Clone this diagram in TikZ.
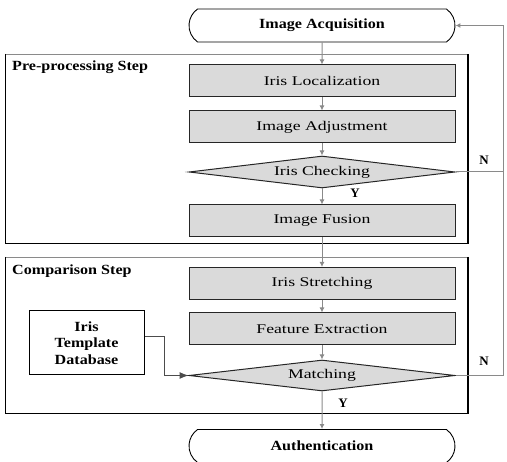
\documentclass[tikz,border=0pt]{standalone}
\usepackage{fontspec}
\setmainfont{Liberation Serif}
\newfontfamily\wreg[FakeStretch=1.33]{Liberation Serif}
\newfontfamily\wbold[FakeStretch=1.15]{Liberation Serif}
\usetikzlibrary{shapes.geometric,shapes.misc,arrows.meta}
\definecolor{boxgray}{HTML}{DADADA}
\definecolor{linegray}{HTML}{8A8A8A}
\tikzset{
  term/.style={rounded rectangle, rounded rectangle arc length=110, draw=black, line width=0.9pt,
    minimum width=266pt, minimum height=33pt, inner sep=0pt, font=\wbold\bfseries\fontsize{14}{16}\selectfont},
  proc/.style={rectangle, draw=black!85, line width=1pt, fill=boxgray,
    minimum width=266pt, minimum height=32pt, inner sep=0pt, font=\wreg\fontsize{13.3}{15}\selectfont},
  dec/.style={diamond, aspect=8.3, draw=black!85, line width=1pt, fill=boxgray,
    minimum width=266pt, minimum height=32pt, inner sep=0pt, font=\wreg\fontsize{13.3}{15}\selectfont},
  dbbox/.style={rectangle, draw=black, line width=1pt, fill=white, minimum width=115pt, minimum height=64pt,
    inner sep=0pt, align=center, font=\wbold\bfseries\fontsize{14}{16.5}\selectfont},
  grouplabel/.style={anchor=west, inner sep=0pt, font=\wbold\bfseries\fontsize{14}{16}\selectfont},
  yn/.style={inner sep=0pt, font=\bfseries\fontsize{13}{15}\selectfont},
  conn/.style={draw=linegray, line width=1pt, -{Latex[length=5pt,width=5pt]}},
  plainconn/.style={draw=linegray, line width=1pt},
}
\begin{document}
\begin{tikzpicture}[x=1pt,y=-1pt]
\useasboundingbox (0,0) rectangle (507,462);
% group boxes
\draw[linegray, line width=0.8pt] (5,54) -- (468,54);
\draw[black, line width=1pt] (5,54) -- (5,244) -- (468,244);
\draw[black, line width=1.6pt] (468,54) -- (468,244);
\draw[linegray, line width=0.8pt] (5,257) -- (468,257);
\draw[black, line width=1pt] (5,257) -- (5,414) -- (468,414);
\draw[black, line width=1.6pt] (468,257) -- (468,414);
\node[grouplabel] (lpre) at (12,67) {Pre-processing Step};
\node[grouplabel] (lcmp) at (12,271) {Comparison Step};
% nodes
\node[term] (acq) at (322,25.5) {Image Acquisition};
\node[proc] (loc) at (322,81) {Iris Localization};
\node[proc] (adj) at (322,127) {Image Adjustment};
\node[dec] (chk) at (322,172) {Iris Checking};
\node[proc] (fus) at (322,221) {Image Fusion};
\node[proc] (str) at (322,283.5) {Iris Stretching};
\node[proc] (fea) at (322,329) {Feature Extraction};
\node[dec, minimum height=31pt] (mat) at (322,375.5) {Matching};
\node[term] (auth) at (322,446) {Authentication};
\node[dbbox] (db) at (86.5,343) {Iris\\Template\\Database};
% connectors
\draw[conn] (acq) -- (loc);
\draw[conn] (loc) -- (adj);
\draw[conn] (adj) -- (chk);
\draw[conn] (chk) -- (fus);
\draw[conn] (fus) -- (str);
\draw[conn] (str) -- (fea);
\draw[conn] (fea) -- (mat);
\draw[conn] (mat) -- (auth);
\node[yn] (y1) at (355,193) {Y};
\node[yn] (y2) at (343,403) {Y};
\coordinate (c1) at (503,172);
\coordinate (c2) at (503,375.5);
\coordinate (c3) at (503,25.5);
\draw[plainconn] (chk.east) -- (c1);
\draw[conn] (mat.east) -- (c2) -- (c3) -- (acq.east);
\node[yn] (n1) at (484,160) {N};
\node[yn] (n2) at (484,361) {N};
\coordinate (d1) at (164,337);
\coordinate (d2) at (164,375.5);
\draw[draw=black!70, line width=1pt, -{Latex[length=9pt,width=7pt]}] (db.east |- d1) -- (d1) -- (d2) -- (mat.west);
\end{tikzpicture}
\end{document}
